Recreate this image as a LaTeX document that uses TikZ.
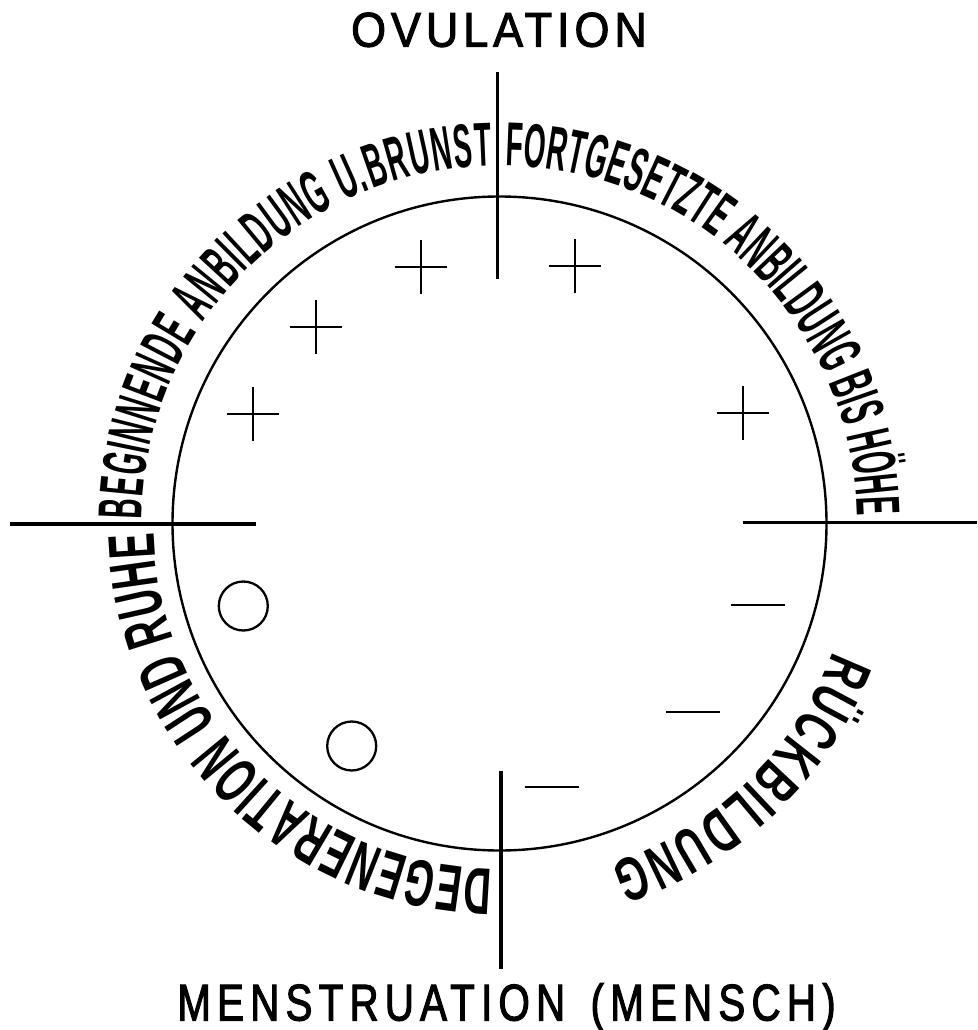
\documentclass[tikz,border=0pt]{standalone}
\usepackage{fontspec}
\setmainfont{Liberation Sans}
\newfontfamily\arcA[FakeStretch=0.45]{Liberation Sans Bold}
\newfontfamily\arcB[FakeStretch=0.57]{Liberation Sans Bold}
\newfontfamily\arcC[FakeStretch=0.64]{Liberation Sans Bold}
\newfontfamily\titleA[FakeStretch=0.92,LetterSpace=10,FakeBold=2]{Liberation Sans}
\newfontfamily\titleB[FakeStretch=0.78,LetterSpace=12,FakeBold=2]{Liberation Sans}
\usetikzlibrary{decorations.text,calc}
\begin{document}
\begin{tikzpicture}[x=1pt,y=1pt,line cap=butt,
  axisline/.style={line width=3.3pt},
  signline/.style={line width=2.3pt},
  arctext/.style={decorate,decoration={text along path,text align=fit to path}},
  plussign/.pic={\draw[signline] (-26,0)--(26,0) (0,-27)--(0,27);},
  minussign/.pic={\draw[signline] (-27,0)--(27,0);},
  ringmark/.style={circle,draw,line width=2.3pt,minimum size=49pt,inner sep=0pt}]
\useasboundingbox (0,0) rectangle (977,-1030);
\coordinate (c) at (499.5,-523.5);
\node[circle,draw,line width=2.4pt,minimum size=654pt,inner sep=0pt] (ring) at (c) {};
% axes
\coordinate (topA) at (497.3,-72);
\coordinate (topB) at (497.3,-279);
\coordinate (botA) at (501,-771);
\coordinate (botB) at (501,-969);
\coordinate (leftA) at (10,-524);
\coordinate (leftB) at (256,-524);
\coordinate (rightA) at (743,-522.7);
\coordinate (rightB) at (977,-522.7);
\draw[axisline] (topA) -- (topB);
\draw[axisline] (botA) -- (botB);
\draw[axisline] (leftA) -- (leftB);
\draw[axisline] (rightA) -- (rightB);
% marks
\pic at (420.7,-266.7) {plussign};
\pic at (316,-326.7) {plussign};
\pic at (253.3,-414.3) {plussign};
\pic at (575,-266) {plussign};
\pic at (743.3,-413.3) {plussign};
\pic at (757.5,-605.3) {minussign};
\pic at (693,-711.7) {minussign};
\pic at (551.7,-786.7) {minussign};
\node[ringmark] (o1) at (243.3,-606) {};
\node[ringmark] (o2) at (351.7,-746) {};
% titles
\node[anchor=base,inner sep=0pt,font=\titleA\fontsize{48.9}{50}\selectfont] (ovu) at (499,-46.7) {OVULATION};
\node[anchor=base,inner sep=0pt,font=\titleB\fontsize{51.7}{54}\selectfont] (men) at (506.5,-1020.5) {MENSTRUATION\hspace{8pt} (MENSCH)};
% arc texts
\path[arctext,decoration={text={|\arcA\fontsize{62}{66}\selectfont|BEGINNENDE ANBILDUNG U.BRUNST}}]
  ($(c)+(179.3:358)$) arc[start angle=179.3,end angle=91.2,radius=358];
\path[arctext,decoration={text={|\arcA\fontsize{62}{66}\selectfont|FORTGESETZTE ANBILDUNG BIS HÖHE}}]
  ($(c)+(89.1:358)$) arc[start angle=89.1,end angle=1.3,radius=358];
\path[arctext,decoration={text={|\arcC\fontsize{62}{66}\selectfont|RÜCKBILDUNG}}]
  ($(c)+(-21:358)$) arc[start angle=-21,end angle=-72,radius=358];
\path[arctext,decoration={text={|\arcB\fontsize{66}{70}\selectfont|DEGENERATION UND RUHE}}]
  ($(c)+(-91.2:346)$) arc[start angle=-91.2,end angle=-178.4,radius=346];
\end{tikzpicture}
\end{document}
